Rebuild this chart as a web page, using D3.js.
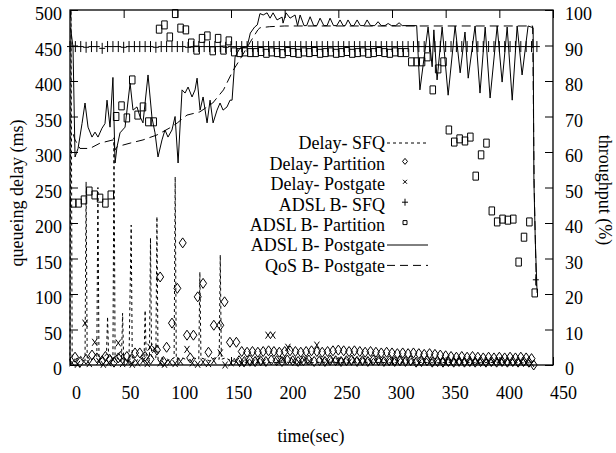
<!DOCTYPE html>
<html><head><meta charset="utf-8">
<script src="https://cdn.jsdelivr.net/npm/d3@7"></script>
<style>
body{margin:0;background:#fff}
svg text{font-family:"Liberation Serif","Tinos","Times New Roman",Times,"Nimbus Roman","DejaVu Serif",serif !important;fill:#000}
</style>
</head><body>
<svg id="c" width="616" height="453"></svg>
<script>
// ---------- tick labels ----------
const xTicks = [0,50,100,150,200,250,300,350,400,450];
const yTicks = [0,50,100,150,200,250,300,350,400,450,500];
const y2Ticks = [0,10,20,30,40,50,60,70,80,90,100];
const legendLabels = ["Delay- SFQ","Delay- Partition","Delay- Postgate","ADSL B- SFQ","ADSL B- Partition","ADSL B- Postgate","QoS B- Postgate"];

// ---------- series (time s, value) ----------
// queueing delay, ms (left axis)
const delaySFQ = [[0,5],[1,500],[2,10],[5,8],[10,12],[14,6],[15,258],[16,10],[20,8],[25,12],[26,250],[27,8],[30,10],[34,15],[35,68],[36,10],[40,8],[41,320],[42,12],[45,8],[48,10],[49,73],[50,8],[55,10],[57,197],[58,10],[62,6],[65,10],[69,8],[70,77],[71,10],[74,8],[75,179],[76,12],[80,10],[81,209],[82,8],[85,10],[90,6],[97,10],[98,265],[99,8],[105,10],[110,6],[115,10],[120,8],[121,131],[122,10],[130,6],[135,10],[139,8],[140,155],[141,8],[145,10],[150,6],[160,4],[180,3],[200,4],[220,3],[240,4],[260,3],[280,4],[300,3],[320,4],[340,3],[360,4],[380,3],[400,4],[420,3],[430,3]];

const delayPartition = [[4.7,11],[9.3,4],[15,8],[20.5,14],[25,10],[30,6],[33,12],[37,8],[41,4],[45,10],[47,12],[53,12],[57,8],[60.6,17],[65,17],[70,12],[75,8],[81,21],[84,124],[87,5],[90,25],[95,59],[100,108],[105,172],[109,42],[112,10],[115,42],[119,96],[124,115],[129,18],[134,56],[140,56],[144,89],[149,32],[155,32],
[157.5,6],[160,19],[162.5,5],[165,18],[167.5,7],[170,19],[172.5,5],[175,18],[177.5,6],[180,19],[182.5,5],[185,20],[187.5,7],[190,19],[192.5,6],[195,18],[197.5,5],[200,19],[202.5,7],[205,20],[207.5,6],[210,19],[212.5,5],[215,18],[217.5,6],[220,19],[222.5,7],[225,20],[227.5,5],[230,19],[232.5,6],[235,18],[237.5,5],[240,19],[242.5,7],[245,20],[247.5,6],[250,21],[252.5,5],[255,20],[257.5,6],[260,19],[262.5,7],[265,20],[267.5,5],[270,19],[272.5,6],[275,18],[277.5,5],[280,19],[282.5,7],[285,18],[287.5,6],[290,17],[292.5,5],[295,18],[297.5,6],[300,17],[302.5,5],[305,16],[307.5,6],[310,17],[312.5,5],[315,16],[317.5,6],[320,17],[322.5,4],[325,16],[327.5,5],[330,15],[332.5,6],[335,16],[337.5,4],[340,15],[342.5,5],[345,14],[347.5,4],[350,13],[352.5,5],[355,12],[357.5,4],[360,11],[362.5,5],[365,12],[367.5,4],[370,11],[372.5,5],[375,12],[377.5,4],[380,11],[382.5,5],[385,10],[387.5,4],[390,11],[392.5,5],[395,10],[397.5,4],[400,11],[402.5,5],[405,10],[407.5,4],[410,11],[412.5,5],[415,10],[417.5,4],[420,11],[422.5,5],[425,10],[427.5,4],[430,9],[432,0]];

const delayPostgate = [[2,3],[7,1],[14,59],[18,2],[23,32],[27,5],[31,1],[36,3],[40,8],[45,31],[49,2],[54,4],[58,1],[63,3],[68,6],[72,2],[74.6,25],[79,22],[84,3],[88,1],[93,4],[98,2],[103,5],[109,22],[114,3],[119,1],[124,4],[129,2],[134,6],[140,17],[144.5,0],[150,3],[155,5],[160,2],[165,4],[170,3],[175,6],[180,4],[184.5,42],[189,42],[194,5],[198,8],[203,25],[208,6],[213,4],[218,7],[223,5],[230,28],[235,6],[240,4],[245,7],[250,5],[255,6],[260,4],[265,7],[270,5],[275,6],[280,4],[285,5],[290,6],[295,4],[300,5],[305,4],[310,6],[315,4],[320,5],[325,3],[330,5],[335,4],[340,3],[345,5],[350,4],[355,3],[360,5],[365,4],[370,3],[375,4],[380,5],[385,3],[390,4],[395,3],[400,5],[405,3],[410,4],[415,3],[420,4],[425,3],[430,2]];

// throughput, % (right axis)
const adslSFQ = [[0,89.7],[5,89.7],[10,89.7],[15,89.5],[20,89.7],[25,89.7],[30,89.2],[35,89.7],[40,89.7],[45,89.7],[50,89.5],[55,89.7],[60,89.7],[65,89.7],[70,89.7],[75,89.7],[80,89.5],[85,89.7],[90,89.7],[95,89.7],[100,89.7],[105,89.7],[110,89.5],[115,89.7],[120,89.7],[125,89.7],[130,89.7],[135,89.7],[140,89.7],[145,89.5],[150,89.7],[155,89.7],[160,89.7],[165,89.7],[170,89.7],[175,89.7],[180,89.7],[185,89.7],[190,89.7],[195,89.7],[200,89.7],[205,89.7],[210,89.7],[215,89.7],[220,89.7],[225,89.7],[230,89.7],[235,89.7],[240,89.7],[245,89.7],[250,89.7],[255,89.7],[260,89.7],[265,89.7],[270,89.7],[275,89.7],[280,89.7],[285,89.7],[290,89.7],[295,89.7],[300,89.7],[305,89.7],[310,89.7],[315,89.7],[320,89.7],[325,89.7],[330,89.7],[335,89.7],[340,89.7],[345,89.7],[350,89.7],[355,89.7],[360,89.7],[365,89.7],[370,89.7],[375,89.7],[380,89.7],[385,89.7],[390,89.7],[395,89.7],[400,89.7],[405,89.7],[410,89.7],[415,89.7],[420,89.7],[425,89.7],[430,89.7],[435,89.7],[434,24]];

const adslPartition = [[3,45.6],[8,45.6],[13,46.5],[18,49],[23,47.9],[28,47],[33,45.6],[38,47.9],[43,70],[48,73],[53,69.6],[58,80.3],[63,70.4],[68,72.7],[73,68.5],[78,68.5],[83,94.6],[88,95.8],[93,92.4],[98,99],[103,94.9],[108,94.4],[113,90.7],[118,88.7],[123,92],[128,92.7],[133,88.5],[138,92],[143,88.7],[148,91.3],[153,88.2],[158,88],[163,88.2],[168,88],[173,88],[178,88.3],[183,87.8],[188,88.2],[193,88],[198,87.7],[203,88.3],[208,88],[213,87.8],[218,88.2],[223,88],[228,88.3],[233,87.8],[238,88],[243,88.2],[248,87.8],[253,88],[258,88.3],[263,87.8],[268,88],[273,88.2],[278,87.8],[283,88],[288,88.3],[293,88],[298,87.8],[303,88.2],[308,88],[313,88],[318,85.4],[323,85.4],[328,85.4],[333,86.8],[338,77.5],[343,83.4],[348,85.4],[353,66.2],[358,62.8],[363,63.7],[368,63.1],[373,64.2],[378,53.2],[383,59.2],[388,62.5],[393,43.4],[398,40.3],[403,41.1],[408,40.8],[413,41.1],[418,29],[423,36],[428,40.3],[433,20.3]];

const adslPostgate = [[0.5,95],[2.8,89.6],[4.7,58.6],[7.5,61],[11.2,68],[14,73.8],[16.8,67],[20.5,64.2],[23.3,65.6],[26.1,64.2],[29.8,66.7],[32.6,68],[34.5,74.6],[37.3,67],[40,81],[42,56.9],[43.8,61.4],[46.6,65.4],[51.3,67],[56,79.4],[58.7,71.8],[62.4,72.7],[65.2,70],[68,68.2],[72.7,81.7],[76.4,69.6],[79.2,65.4],[82,58.6],[85.7,63.4],[88.5,66.2],[91.3,64.2],[95,66.2],[97.9,70],[100.7,56.9],[104.4,77.5],[107.2,76.6],[110,78.3],[113.7,75.5],[116.5,77.5],[118.4,80.8],[121.2,71.8],[124,75.5],[127.7,68.2],[130.5,74.6],[133.3,68.2],[137,71.8],[139.8,73.8],[142.6,71.8],[146.3,72.7],[149.1,74.6],[151,74.6],[153.8,86.8],[158.4,89.3],[165,89.6],[168,93.5],[172,95.2],[174.5,95.8],[177,99],[180,98.6],[183.6,99.2],[186.4,97.7],[189.2,99.2],[192.9,97.2],[197.6,98],[198.5,96.3],[201.3,99.2],[205,97.7],[209.7,98.6],[212,95.6],[214.4,98.6],[218,95.6],[220.5,95.6],[223.7,98.1],[227,95.6],[230,95.6],[233,97.7],[236.5,95.6],[239.5,95.6],[242.3,97.7],[245.5,95.6],[248.5,95.6],[251.6,97.2],[254.5,95.6],[256.5,95.6],[259,97.2],[262,95.6],[264.5,95.6],[267.5,97.2],[270.5,95.6],[274,95.6],[276.8,97.2],[280,95.6],[284,95.6],[287,96.7],[290,95.6],[293.5,95.6],[296.4,96.2],[299.5,95.6],[303.5,95.6],[306.6,96.4],[309.5,95.6],[323,95.6],[326,77.5],[333.6,95.2],[337.4,84],[339,94.4],[342,80.3],[346.7,95.2],[352.3,76],[358.8,95.5],[363.5,82.3],[368,93.8],[371,80.8],[377.4,95.5],[382,76.6],[386.8,95.2],[391.4,75.2],[398,95.5],[402.6,79.7],[407.3,95.2],[412,74.6],[416.6,95.5],[421.2,81.7],[426.8,95.5],[431.5,95],[432.2,52],[433.5,35],[435.2,20.3]];

const qosPostgate = [[3,65],[4.7,63.4],[9.3,61],[18.6,61],[28,62.5],[40,63.4],[42,60.6],[44,61.5],[56,62.5],[68,63.4],[81,64.8],[93,66.8],[100,68.2],[109,70.4],[121,71.3],[133,73.8],[143,77.5],[152,83],[158,85.9],[168,91],[175,94.4],[177,95],[186,95.3],[200,95.5],[300,95.5],[400,95.5],[431,95.5],[432.5,50],[434.5,22]];

// ---------- layout ----------
const M = {left:70, top:10, right:553, bottom:365};
const svg = d3.select("#c");
const x = d3.scaleLinear().domain([0,450]).range([M.left, M.right]);
const y = d3.scaleLinear().domain([0,500]).range([M.bottom, M.top]);
const y2 = d3.scaleLinear().domain([0,100]).range([M.bottom, M.top]);
const FS = 18;

// marker shapes
const diamond = (w,h)=>`M0,${-h/2}L${w/2},0L0,${h/2}L${-w/2},0Z`;
const cross = (w,h)=>`M${-w/2},${-h/2}L${w/2},${h/2}M${-w/2},${h/2}L${w/2},${-h/2}`;
const plus = (w,h)=>`M${-w/2},0L${w/2},0M0,${-h/2}L0,${h/2}`;
const square = (w,h)=>`M${-w/2},${-h/2}h${w}v${h}h${-w}Z`;

// axes
const gx = svg.append("g").attr("transform",`translate(0,${M.bottom})`)
  .call(d3.axisBottom(x).tickValues(xTicks).tickSizeInner(-8).tickSizeOuter(0).tickPadding(21));
gx.selectAll(".tick text").attr("dx",(d,i)=>6+4*i/9);
const gxt = svg.append("g").attr("transform",`translate(0,${M.top})`)
  .call(d3.axisTop(x).tickValues(xTicks).tickSizeInner(-8).tickSizeOuter(0).tickFormat(""));
const gy = svg.append("g").attr("transform",`translate(${M.left},0)`)
  .call(d3.axisLeft(y).tickValues(yTicks).tickSizeInner(-8).tickSizeOuter(0).tickPadding(8));
gy.selectAll(".tick text").attr("dy","0.55em");
const gy2 = svg.append("g").attr("transform",`translate(${M.right},0)`)
  .call(d3.axisRight(y2).tickValues(y2Ticks).tickSizeInner(-8).tickSizeOuter(0).tickPadding(12));
gy2.selectAll(".tick text").attr("dy","0.55em");
[gx,gxt,gy,gy2].forEach(g=>{
  g.attr("font-family",null).attr("font-size",null);
  g.select(".domain").remove();
  g.selectAll(".tick line").attr("stroke","#000").attr("stroke-width",1);
  g.selectAll(".tick text").attr("font-size",FS).attr("fill","#000");
});

// axis titles
svg.append("text").attr("x",311).attr("y",442).attr("text-anchor","middle").attr("font-size",FS).text("time(sec)");
svg.append("text").attr("transform","translate(23,193) rotate(-90)").attr("text-anchor","middle").attr("font-size",FS).text("queueing delay (ms)");
svg.append("text").attr("transform","translate(599,190) rotate(90)").attr("text-anchor","middle").attr("font-size",FS).text("throughput (%)");

// frame
svg.append("rect").attr("x",M.left).attr("y",M.top).attr("width",M.right-M.left).attr("height",M.bottom-M.top)
  .attr("fill","none").attr("stroke","#000").attr("stroke-width",1.3);

const plot = svg.append("g");
const lineL = d3.line().x(d=>x(d[0])).y(d=>y(d[1]));
const lineR = d3.line().x(d=>x(d[0])).y(d=>y2(d[1]));

plot.append("path").attr("d",lineL(delaySFQ)).attr("fill","none").attr("stroke","#000").attr("stroke-width",1).attr("stroke-dasharray","3,3");
plot.append("path").attr("d",lineR(adslPostgate)).attr("fill","none").attr("stroke","#000").attr("stroke-width",1);
plot.append("path").attr("d",lineR(qosPostgate)).attr("fill","none").attr("stroke","#000").attr("stroke-width",1).attr("stroke-dasharray","9,5");

function pts(data, sc, shape){
  plot.append("g").selectAll("path").data(data).join("path")
    .attr("transform",d=>`translate(${x(d[0])},${sc(d[1])})`)
    .attr("d",shape).attr("fill","none").attr("stroke","#000").attr("stroke-width",1);
}
pts(delayPartition, y, diamond(7,10));
pts(delayPostgate, y, cross(5,7));
pts(adslSFQ, y2, plus(6,11));
pts(adslPartition, y2, square(5.5,8));

// legend
const lg = svg.append("g");
const types = ["dot","diamond","cross","plus","square","solid","dash"];
legendLabels.forEach((lab,i)=>{
  const yy = 143 + i*20.4;
  lg.append("text").attr("x",385).attr("y",yy).attr("dy","0.35em").attr("text-anchor","end").attr("font-size",FS).text(lab);
  const t = types[i];
  if(t==="dot"||t==="solid"||t==="dash"){
    lg.append("line").attr("x1",387).attr("x2",428).attr("y1",yy).attr("y2",yy).attr("stroke","#000").attr("stroke-width",1)
      .attr("stroke-dasharray", t==="dot"?"3,3":(t==="dash"?"8,5":null));
  } else {
    const sh = t==="diamond"?diamond(5,6):t==="cross"?cross(4,4):t==="plus"?plus(6,7):square(4,4);
    lg.append("path").attr("transform",`translate(405,${yy-2})`).attr("d",sh).attr("fill","none").attr("stroke","#000").attr("stroke-width",1);
  }
});
</script>
</body></html>
